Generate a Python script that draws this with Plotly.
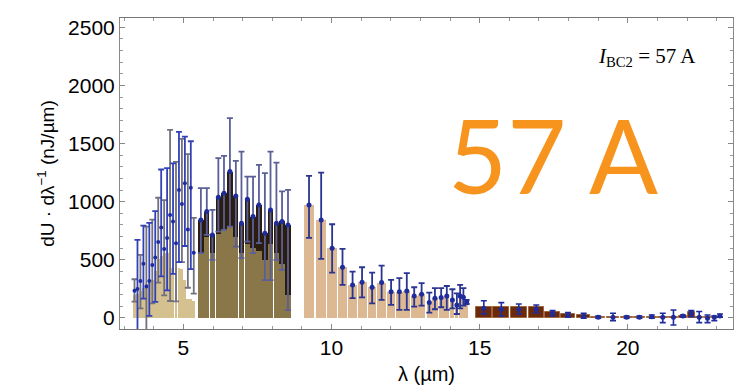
import plotly.graph_objects as go

# ---- short-wavelength band (narrow bars, 3.35-5.35 um) ----
lam_a = [3.35, 3.45, 3.55, 3.65, 3.75, 3.85, 3.95, 4.05, 4.15, 4.25, 4.35,
         4.45, 4.55, 4.65, 4.75, 4.85, 4.95, 5.05, 5.15, 5.25, 5.35]
bar_a = [200, 210, 230, 260, 290, 300, 330, 400, 510, 530, 560,
         560, 430, 430, 430, 430, 420, 330, 160, 160, 150]
pt_a = [235, 250, 318, 467, 270, 318, 456, 519, 654, 777, 594,
        688, 886, 829, 643, 1101, 980, 1159, 760, 1120, 560]
hi_a = [333, 671, 542, 794, 786, 818, 846, 919, 1034, 1277, 1014,
        1288, 1618, 1329, 1343, 1601, 1540, 1559, 1410, 1520, 860]
lo_a = [140, -258, 83, 167, -404, 18, 126, 139, 304, 357, 194,
        238, 146, 379, 143, 481, 480, 619, 260, 420, 210]

# ---- mid band (5.6-8.5 um), two overlapping histograms ----
lam_b = [5.59, 5.79, 5.98, 6.18, 6.37, 6.57, 6.77, 6.96,
         7.16, 7.35, 7.55, 7.75, 7.94, 8.14, 8.33, 8.53]
bar_b_dark = [843, 915, 714, 1038, 1073, 1259, 1050, 815,
              1021, 872, 972, 729, 929, 815, 830, 800]
bar_b_light = [560, 700, 560, 720, 760, 790, 700, 560,
               640, 600, 580, 500, 640, 560, 460, 200]
hi_b = [1116, 1116, 930, 1374, 1394, 1718, 1351, 1431,
        1216, 1216, 1316, 1245, 1431, 1336, 1088, 1102]
lo_b = [557, 714, 500, 743, 757, 786, 614, 514,
        657, 557, 643, 326, 326, 500, 413, 68]

# ---- long band (9.2-14.6 um) ----
lam_c = [9.24, 9.65, 10.02, 10.37, 10.71, 11.03, 11.37, 11.69, 12.01, 12.29, 12.54,
         12.79, 13.04, 13.30, 13.49, 13.70, 13.89, 14.08, 14.23, 14.34, 14.45, 14.56]
val_c = [972, 843, 600, 436, 284, 307, 264, 304, 226, 226, 232,
         189, 204, 132, 170, 175, 189, 155, 112, 189, 178, 140]
hi_c = [1222, 1250, 806, 594, 398, 436, 390, 450, 327, 342, 385,
        264, 299, 218, 256, 256, 275, 247, 212, 284, 256, 155]
lo_c = [688, 508, 390, 284, 170, 177, 126, 155, 112, 69, 69,
        97, 106, 46, 75, 92, 69, 83, 34, 83, 106, 120]

# ---- far band (15-23 um) ----
lam_d = [15.14, 15.73, 16.32, 16.91, 17.46, 17.98, 18.51, 19.00, 19.50, 19.96,
         20.39, 20.81, 21.18, 21.54, 21.86, 22.14, 22.41, 22.69, 22.92, 23.11]
bar_d = [98, 98, 98, 98, 54, 34, 26, 11, 6, 6, 6, 8, 6, 6, 20, 50, 10, 5, 5, 10]
pt_d = [83, 75, 75, 77, 40, 26, 17, 6, 6, 6, 6, 11, 6, 6, 17, 40, 6, -3, 6, 17]
hi_d = [148, 132, 120, 112, 63, 46, 40, 17, 40, 17, 17, 26, 40, 69, 26, 63, 55, 26, 17, 34]
lo_d = [35, 17, 34, 46, 17, 6, -3, -3, -23, -3, -3, -3, -40, -60, 6, 11, -40, -40, -23, 6]

y_ticks = [0, 500, 1000, 1500, 2000, 2500]
x_ticks = [5, 10, 15, 20]


def widths(centers, frac):
    """Bar widths from the spacing between neighbouring centres."""
    out = []
    for i in range(len(centers)):
        if i < len(centers) - 1:
            step = centers[i + 1] - centers[i]
        else:
            step = centers[i] - centers[i - 1]
        out.append(step * frac)
    return out


def err_scatter(xs, ys, hi, lo, color, thick, cap, dot_color, dot_size):
    return go.Scatter(
        x=xs, y=ys, mode="markers",
        marker=dict(color=dot_color, size=dot_size),
        error_y=dict(type="data", symmetric=False,
                     array=[h - v for h, v in zip(hi, ys)],
                     arrayminus=[v - l for v, l in zip(ys, lo)],
                     color=color, thickness=thick, width=cap),
        showlegend=False, hoverinfo="skip",
    )


BLUE = "#1f2c9c"
GRAY = "#72727f"
SLATE = "#5a5f98"

fig = go.Figure()

# bars
fig.add_bar(x=lam_a, y=bar_a, width=widths(lam_a, 0.97),
            marker=dict(color="#d4c18f", line=dict(width=0)), showlegend=False)
fig.add_bar(x=lam_b, y=bar_b_dark, width=widths(lam_b, 0.94),
            marker=dict(color="#2b1d0e", line=dict(width=0)), showlegend=False)
fig.add_bar(x=lam_b, y=bar_b_light, width=widths(lam_b, 0.94),
            marker=dict(color="#8a7749", line=dict(width=0)), showlegend=False)
fig.add_bar(x=lam_c, y=val_c, width=widths(lam_c, 0.9),
            marker=dict(color="#dcb993", line=dict(width=0)), showlegend=False)
fig.add_bar(x=lam_d, y=bar_d, width=widths(lam_d, 0.92),
            marker=dict(color="#6b2a0c", line=dict(width=1, color="#a0643a")),
            showlegend=False)

# error bars with points
even = list(range(0, len(lam_a), 2))
odd = list(range(1, len(lam_a), 2))
pick = lambda arr, idx: [arr[i] for i in idx]
fig.add_trace(err_scatter(pick(lam_a, even), pick(pt_a, even), pick(hi_a, even),
                          pick(lo_a, even), GRAY, 1.8, 3, BLUE, 4))
fig.add_trace(err_scatter(pick(lam_a, odd), pick(pt_a, odd), pick(hi_a, odd),
                          pick(lo_a, odd), "#3341b8", 1.8, 3, BLUE, 4))
fig.add_trace(err_scatter(lam_b, bar_b_dark, hi_b, lo_b, SLATE, 1.8, 3, BLUE, 5))
fig.add_trace(err_scatter(lam_c, val_c, hi_c, lo_c, "#2a3592", 1.8, 3, BLUE, 5))
fig.add_trace(err_scatter(lam_d, pt_d, hi_d, lo_d, BLUE, 1.6, 3, BLUE, 5))

fig.update_layout(
    width=742, height=387,
    margin=dict(l=120, r=9, t=18, b=58),
    paper_bgcolor="white", plot_bgcolor="white",
    barmode="overlay", bargap=0,
    font=dict(family="Liberation Sans, Arial, sans-serif", color="black"),
    xaxis=dict(
        range=[2.86, 23.55], tickvals=x_ticks, ticks="inside", ticklen=5,
        tickcolor="#888", showline=True, linecolor="#777", linewidth=1,
        mirror="ticks", showgrid=False, zeroline=False, automargin=False,
        tickfont=dict(size=21),
        minor=dict(dtick=1, ticks="inside", ticklen=3, tickcolor="#999"),
        title=dict(text="λ (µm)", font=dict(size=20), standoff=8),
    ),
    yaxis=dict(
        range=[-95, 2580], tickvals=y_ticks, ticks="inside", ticklen=5,
        tickcolor="#888", showline=True, linecolor="#888", linewidth=1,
        mirror="ticks", showgrid=False, zeroline=False, automargin=False,
        tickfont=dict(size=21),
        minor=dict(dtick=100, ticks="inside", ticklen=3, tickcolor="#999"),
        title=dict(text="dU · dλ<sup>−1</sup> (nJ/µm)", font=dict(size=19),
                   standoff=8),
    ),
    annotations=[
        dict(text="<i>I</i><sub>BC2</sub> = 57 A", xref="paper", yref="paper",
             x=0.943, y=0.875, xanchor="right", yanchor="middle",
             showarrow=False,
             font=dict(family="Liberation Serif, Times New Roman, serif",
                       size=21, color="black")),
        dict(text="57 A", xref="paper", yref="paper", x=0.706, y=0.561,
             xanchor="center", yanchor="middle", showarrow=False,
             font=dict(family="Lato, sans-serif", size=102, color="#f7941e")),
    ],
)

fig.write_html("out.html")
